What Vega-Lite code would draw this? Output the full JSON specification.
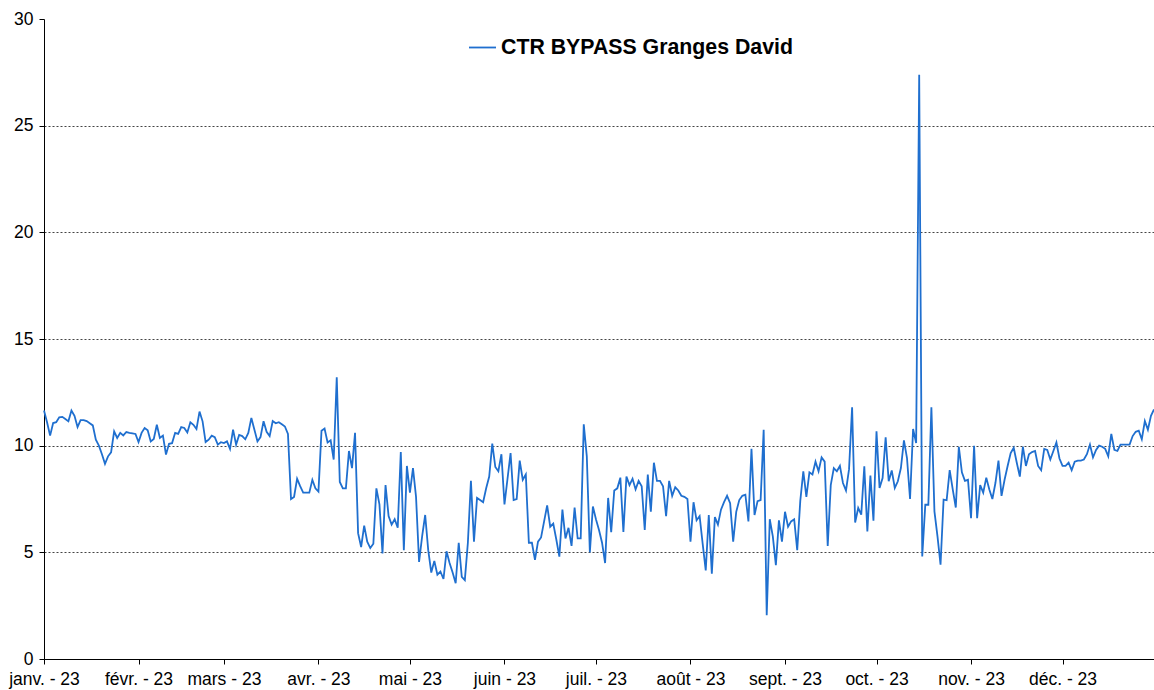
{"$schema":"https://vega.github.io/schema/vega-lite/v6.json","width":1110,"height":640,"autosize":{"type":"none"},"padding":{"left":44,"top":19,"right":0,"bottom":31},"background":"white","config":{"view":{"stroke":null},"font":"Liberation Sans"},
"data":{"values":[
{"date":"2023-01-01","v":11.65},{"date":"2023-01-02","v":11.1},{"date":"2023-01-03","v":10.47},{"date":"2023-01-04","v":11.06},{"date":"2023-01-05","v":11.1},{"date":"2023-01-06","v":11.33},{"date":"2023-01-07","v":11.35},{"date":"2023-01-08","v":11.25},{"date":"2023-01-09","v":11.14},{"date":"2023-01-10","v":11.65},{"date":"2023-01-11","v":11.4},{"date":"2023-01-12","v":10.87},{"date":"2023-01-13","v":11.2},{"date":"2023-01-14","v":11.2},{"date":"2023-01-15","v":11.15},{"date":"2023-01-16","v":11.05},{"date":"2023-01-17","v":10.95},{"date":"2023-01-18","v":10.28},{"date":"2023-01-19","v":10.0},{"date":"2023-01-20","v":9.6},{"date":"2023-01-21","v":9.15},{"date":"2023-01-22","v":9.5},{"date":"2023-01-23","v":9.69},{"date":"2023-01-24","v":10.67},{"date":"2023-01-25","v":10.36},{"date":"2023-01-26","v":10.6},{"date":"2023-01-27","v":10.48},{"date":"2023-01-28","v":10.64},{"date":"2023-01-29","v":10.6},{"date":"2023-01-30","v":10.58},{"date":"2023-01-31","v":10.55},
{"date":"2023-02-01","v":10.17},{"date":"2023-02-02","v":10.6},{"date":"2023-02-03","v":10.83},{"date":"2023-02-04","v":10.72},{"date":"2023-02-05","v":10.2},{"date":"2023-02-06","v":10.31},{"date":"2023-02-07","v":10.98},{"date":"2023-02-08","v":10.36},{"date":"2023-02-09","v":10.47},{"date":"2023-02-10","v":9.58},{"date":"2023-02-11","v":10.09},{"date":"2023-02-12","v":10.12},{"date":"2023-02-13","v":10.6},{"date":"2023-02-14","v":10.55},{"date":"2023-02-15","v":10.87},{"date":"2023-02-16","v":10.83},{"date":"2023-02-17","v":10.62},{"date":"2023-02-18","v":11.1},{"date":"2023-02-19","v":10.98},{"date":"2023-02-20","v":10.78},{"date":"2023-02-21","v":11.6},{"date":"2023-02-22","v":11.14},{"date":"2023-02-23","v":10.17},{"date":"2023-02-24","v":10.28},{"date":"2023-02-25","v":10.47},{"date":"2023-02-26","v":10.4},{"date":"2023-02-27","v":10.05},{"date":"2023-02-28","v":10.16},
{"date":"2023-03-01","v":10.12},{"date":"2023-03-02","v":10.2},{"date":"2023-03-03","v":9.85},{"date":"2023-03-04","v":10.75},{"date":"2023-03-05","v":10.05},{"date":"2023-03-06","v":10.5},{"date":"2023-03-07","v":10.45},{"date":"2023-03-08","v":10.3},{"date":"2023-03-09","v":10.6},{"date":"2023-03-10","v":11.3},{"date":"2023-03-11","v":10.75},{"date":"2023-03-12","v":10.2},{"date":"2023-03-13","v":10.4},{"date":"2023-03-14","v":11.15},{"date":"2023-03-15","v":10.65},{"date":"2023-03-16","v":10.45},{"date":"2023-03-17","v":11.15},{"date":"2023-03-18","v":11.05},{"date":"2023-03-19","v":11.1},{"date":"2023-03-20","v":11.0},{"date":"2023-03-21","v":10.9},{"date":"2023-03-22","v":10.55},{"date":"2023-03-23","v":7.5},{"date":"2023-03-24","v":7.6},{"date":"2023-03-25","v":8.45},{"date":"2023-03-26","v":8.1},{"date":"2023-03-27","v":7.8},{"date":"2023-03-28","v":7.8},{"date":"2023-03-29","v":7.8},{"date":"2023-03-30","v":8.4},{"date":"2023-03-31","v":8.0},
{"date":"2023-04-01","v":7.85},{"date":"2023-04-02","v":10.7},{"date":"2023-04-03","v":10.8},{"date":"2023-04-04","v":10.15},{"date":"2023-04-05","v":10.25},{"date":"2023-04-06","v":9.35},{"date":"2023-04-07","v":13.2},{"date":"2023-04-08","v":8.3},{"date":"2023-04-09","v":8.0},{"date":"2023-04-10","v":8.0},{"date":"2023-04-11","v":9.75},{"date":"2023-04-12","v":8.95},{"date":"2023-04-13","v":10.6},{"date":"2023-04-14","v":5.9},{"date":"2023-04-15","v":5.25},{"date":"2023-04-16","v":6.25},{"date":"2023-04-17","v":5.5},{"date":"2023-04-18","v":5.2},{"date":"2023-04-19","v":5.4},{"date":"2023-04-20","v":8.0},{"date":"2023-04-21","v":7.25},{"date":"2023-04-22","v":4.95},{"date":"2023-04-23","v":8.15},{"date":"2023-04-24","v":6.7},{"date":"2023-04-25","v":6.3},{"date":"2023-04-26","v":6.55},{"date":"2023-04-27","v":6.15},{"date":"2023-04-28","v":9.7},{"date":"2023-04-29","v":5.1},{"date":"2023-04-30","v":9.05},
{"date":"2023-05-01","v":7.8},{"date":"2023-05-02","v":8.95},{"date":"2023-05-03","v":7.6},{"date":"2023-05-04","v":4.55},{"date":"2023-05-05","v":5.75},{"date":"2023-05-06","v":6.75},{"date":"2023-05-07","v":5.1},{"date":"2023-05-08","v":4.05},{"date":"2023-05-09","v":4.6},{"date":"2023-05-10","v":3.95},{"date":"2023-05-11","v":4.1},{"date":"2023-05-12","v":3.75},{"date":"2023-05-13","v":5.05},{"date":"2023-05-14","v":4.5},{"date":"2023-05-15","v":4.05},{"date":"2023-05-16","v":3.55},{"date":"2023-05-17","v":5.45},{"date":"2023-05-18","v":3.85},{"date":"2023-05-19","v":3.7},{"date":"2023-05-20","v":5.45},{"date":"2023-05-21","v":8.35},{"date":"2023-05-22","v":5.5},{"date":"2023-05-23","v":7.55},{"date":"2023-05-24","v":7.45},{"date":"2023-05-25","v":7.35},{"date":"2023-05-26","v":8.0},{"date":"2023-05-27","v":8.55},{"date":"2023-05-28","v":10.1},{"date":"2023-05-29","v":9.0},{"date":"2023-05-30","v":8.8},{"date":"2023-05-31","v":9.6},
{"date":"2023-06-01","v":7.25},{"date":"2023-06-02","v":8.45},{"date":"2023-06-03","v":9.65},{"date":"2023-06-04","v":7.45},{"date":"2023-06-05","v":7.5},{"date":"2023-06-06","v":9.3},{"date":"2023-06-07","v":8.4},{"date":"2023-06-08","v":8.65},{"date":"2023-06-09","v":5.45},{"date":"2023-06-10","v":5.45},{"date":"2023-06-11","v":4.65},{"date":"2023-06-12","v":5.5},{"date":"2023-06-13","v":5.7},{"date":"2023-06-14","v":6.45},{"date":"2023-06-15","v":7.2},{"date":"2023-06-16","v":6.2},{"date":"2023-06-17","v":6.35},{"date":"2023-06-18","v":5.6},{"date":"2023-06-19","v":4.8},{"date":"2023-06-20","v":7.0},{"date":"2023-06-21","v":5.65},{"date":"2023-06-22","v":6.15},{"date":"2023-06-23","v":5.3},{"date":"2023-06-24","v":7.1},{"date":"2023-06-25","v":5.65},{"date":"2023-06-26","v":5.65},{"date":"2023-06-27","v":11.0},{"date":"2023-06-28","v":9.5},{"date":"2023-06-29","v":5.0},{"date":"2023-06-30","v":7.15},
{"date":"2023-07-01","v":6.55},{"date":"2023-07-02","v":6.05},{"date":"2023-07-03","v":5.45},{"date":"2023-07-04","v":4.5},{"date":"2023-07-05","v":7.55},{"date":"2023-07-06","v":5.95},{"date":"2023-07-07","v":7.9},{"date":"2023-07-08","v":8.0},{"date":"2023-07-09","v":8.5},{"date":"2023-07-10","v":5.95},{"date":"2023-07-11","v":8.55},{"date":"2023-07-12","v":8.15},{"date":"2023-07-13","v":8.45},{"date":"2023-07-14","v":7.95},{"date":"2023-07-15","v":8.35},{"date":"2023-07-16","v":8.1},{"date":"2023-07-17","v":6.05},{"date":"2023-07-18","v":8.65},{"date":"2023-07-19","v":6.9},{"date":"2023-07-20","v":9.2},{"date":"2023-07-21","v":8.35},{"date":"2023-07-22","v":8.35},{"date":"2023-07-23","v":8.1},{"date":"2023-07-24","v":6.7},{"date":"2023-07-25","v":8.35},{"date":"2023-07-26","v":7.65},{"date":"2023-07-27","v":8.05},{"date":"2023-07-28","v":7.9},{"date":"2023-07-29","v":7.65},{"date":"2023-07-30","v":7.6},{"date":"2023-07-31","v":7.5},
{"date":"2023-08-01","v":5.5},{"date":"2023-08-02","v":7.35},{"date":"2023-08-03","v":6.5},{"date":"2023-08-04","v":6.7},{"date":"2023-08-05","v":5.4},{"date":"2023-08-06","v":4.15},{"date":"2023-08-07","v":6.75},{"date":"2023-08-08","v":4.0},{"date":"2023-08-09","v":6.65},{"date":"2023-08-10","v":6.3},{"date":"2023-08-11","v":7.0},{"date":"2023-08-12","v":7.35},{"date":"2023-08-13","v":7.65},{"date":"2023-08-14","v":7.3},{"date":"2023-08-15","v":5.5},{"date":"2023-08-16","v":6.9},{"date":"2023-08-17","v":7.45},{"date":"2023-08-18","v":7.65},{"date":"2023-08-19","v":7.7},{"date":"2023-08-20","v":6.45},{"date":"2023-08-21","v":9.85},{"date":"2023-08-22","v":6.75},{"date":"2023-08-23","v":7.4},{"date":"2023-08-24","v":7.45},{"date":"2023-08-25","v":10.75},{"date":"2023-08-26","v":2.05},{"date":"2023-08-27","v":6.55},{"date":"2023-08-28","v":5.75},{"date":"2023-08-29","v":4.4},{"date":"2023-08-30","v":6.5},{"date":"2023-08-31","v":5.5},
{"date":"2023-09-01","v":6.9},{"date":"2023-09-02","v":6.2},{"date":"2023-09-03","v":6.45},{"date":"2023-09-04","v":6.55},{"date":"2023-09-05","v":5.1},{"date":"2023-09-06","v":7.4},{"date":"2023-09-07","v":8.8},{"date":"2023-09-08","v":7.6},{"date":"2023-09-09","v":8.75},{"date":"2023-09-10","v":8.65},{"date":"2023-09-11","v":9.25},{"date":"2023-09-12","v":8.8},{"date":"2023-09-13","v":9.45},{"date":"2023-09-14","v":9.25},{"date":"2023-09-15","v":5.3},{"date":"2023-09-16","v":8.15},{"date":"2023-09-17","v":8.95},{"date":"2023-09-18","v":8.8},{"date":"2023-09-19","v":9.05},{"date":"2023-09-20","v":8.25},{"date":"2023-09-21","v":7.9},{"date":"2023-09-22","v":8.9},{"date":"2023-09-23","v":11.8},{"date":"2023-09-24","v":6.4},{"date":"2023-09-25","v":7.08},{"date":"2023-09-26","v":6.77},{"date":"2023-09-27","v":9.03},{"date":"2023-09-28","v":5.98},{"date":"2023-09-29","v":8.6},{"date":"2023-09-30","v":6.48},
{"date":"2023-10-01","v":10.67},{"date":"2023-10-02","v":8.02},{"date":"2023-10-03","v":8.48},{"date":"2023-10-04","v":10.39},{"date":"2023-10-05","v":8.33},{"date":"2023-10-06","v":8.84},{"date":"2023-10-07","v":8.02},{"date":"2023-10-08","v":8.33},{"date":"2023-10-09","v":8.95},{"date":"2023-10-10","v":10.25},{"date":"2023-10-11","v":9.42},{"date":"2023-10-12","v":7.5},{"date":"2023-10-13","v":10.78},{"date":"2023-10-14","v":10.12},{"date":"2023-10-15","v":27.39},{"date":"2023-10-16","v":4.81},{"date":"2023-10-17","v":7.23},{"date":"2023-10-18","v":7.23},{"date":"2023-10-19","v":11.8},{"date":"2023-10-20","v":6.92},{"date":"2023-10-21","v":5.75},{"date":"2023-10-22","v":4.42},{"date":"2023-10-23","v":7.47},{"date":"2023-10-24","v":7.44},{"date":"2023-10-25","v":8.85},{"date":"2023-10-26","v":7.95},{"date":"2023-10-27","v":7.1},{"date":"2023-10-28","v":9.95},{"date":"2023-10-29","v":8.75},{"date":"2023-10-30","v":8.35},{"date":"2023-10-31","v":8.4},
{"date":"2023-11-01","v":6.6},{"date":"2023-11-02","v":10.0},{"date":"2023-11-03","v":6.6},{"date":"2023-11-04","v":8.15},{"date":"2023-11-05","v":7.8},{"date":"2023-11-06","v":8.5},{"date":"2023-11-07","v":7.95},{"date":"2023-11-08","v":7.5},{"date":"2023-11-09","v":8.25},{"date":"2023-11-10","v":9.3},{"date":"2023-11-11","v":7.65},{"date":"2023-11-12","v":8.4},{"date":"2023-11-13","v":9.05},{"date":"2023-11-14","v":9.65},{"date":"2023-11-15","v":9.9},{"date":"2023-11-16","v":9.2},{"date":"2023-11-17","v":8.55},{"date":"2023-11-18","v":9.95},{"date":"2023-11-19","v":9.05},{"date":"2023-11-20","v":9.6},{"date":"2023-11-21","v":9.7},{"date":"2023-11-22","v":9.75},{"date":"2023-11-23","v":9.05},{"date":"2023-11-24","v":8.85},{"date":"2023-11-25","v":9.85},{"date":"2023-11-26","v":9.8},{"date":"2023-11-27","v":9.35},{"date":"2023-11-28","v":9.75},{"date":"2023-11-29","v":10.15},{"date":"2023-11-30","v":9.4},
{"date":"2023-12-01","v":9.05},{"date":"2023-12-02","v":9.05},{"date":"2023-12-03","v":9.2},{"date":"2023-12-04","v":8.85},{"date":"2023-12-05","v":9.25},{"date":"2023-12-06","v":9.3},{"date":"2023-12-07","v":9.3},{"date":"2023-12-08","v":9.35},{"date":"2023-12-09","v":9.6},{"date":"2023-12-10","v":10.05},{"date":"2023-12-11","v":9.45},{"date":"2023-12-12","v":9.8},{"date":"2023-12-13","v":10.0},{"date":"2023-12-14","v":9.95},{"date":"2023-12-15","v":9.85},{"date":"2023-12-16","v":9.5},{"date":"2023-12-17","v":10.55},{"date":"2023-12-18","v":9.8},{"date":"2023-12-19","v":9.75},{"date":"2023-12-20","v":10.05},{"date":"2023-12-21","v":10.05},{"date":"2023-12-22","v":10.05},{"date":"2023-12-23","v":10.05},{"date":"2023-12-24","v":10.45},{"date":"2023-12-25","v":10.65},{"date":"2023-12-26","v":10.7},{"date":"2023-12-27","v":10.3},{"date":"2023-12-28","v":11.15},{"date":"2023-12-29","v":10.75},{"date":"2023-12-30","v":11.4},{"date":"2023-12-31","v":11.7}
]},
"mark":{"type":"line","strokeWidth":1.8,"interpolate":"linear"},
"encoding":{
"x":{"field":"date","type":"temporal","scale":{"type":"utc","domain":[{"year":2023,"month":1,"date":1,"utc":true},{"year":2023,"month":12,"date":31,"utc":true}],"nice":false},
"axis":{"title":null,"grid":false,"values":[{"year":2023,"month":1,"date":1,"utc":true},{"year":2023,"month":2,"date":1,"utc":true},{"year":2023,"month":3,"date":1,"utc":true},{"year":2023,"month":4,"date":1,"utc":true},{"year":2023,"month":5,"date":1,"utc":true},{"year":2023,"month":6,"date":1,"utc":true},{"year":2023,"month":7,"date":1,"utc":true},{"year":2023,"month":8,"date":1,"utc":true},{"year":2023,"month":9,"date":1,"utc":true},{"year":2023,"month":10,"date":1,"utc":true},{"year":2023,"month":11,"date":1,"utc":true},{"year":2023,"month":12,"date":1,"utc":true}],
"labelExpr":"['janv.','févr.','mars','avr.','mai','juin','juil.','août','sept.','oct.','nov.','déc.'][utcmonth(datum.value)] + ' - 23'",
"labelFont":"Liberation Sans","labelFontSize":17.5,"labelColor":"#000","labelPadding":6,"labelOverlap":false,"labelFlush":false,"domainColor":"#000","domainWidth":1,"tickColor":"#000","tickSize":5}},
"y":{"field":"v","type":"quantitative","scale":{"domain":[0,30],"nice":false,"zero":true},
"axis":{"title":null,"values":[0,5,10,15,20,25,30],"grid":true,"gridColor":"#444","gridDash":[2,2],"gridWidth":1,"gridOpacity":{"condition":{"test":"datum.value === 30","value":0},"value":1},"labelFont":"Liberation Sans","labelFontSize":17.5,"labelColor":"#000","labelPadding":6,"domainColor":"#000","domainWidth":1,"tickColor":"#000","tickSize":5}},
"color":{"datum":"CTR BYPASS Granges David","type":"nominal","scale":{"range":["#1F6FCF"]},
"legend":{"title":null,"orient":"none","legendX":424,"legendY":14,"padding":0,"symbolType":"stroke","symbolSize":729,"symbolStrokeWidth":1.8,"labelFont":"Liberation Sans","labelFontSize":21.3,"labelFontWeight":"bold","labelColor":"#000","labelOffset":4,"labelLimit":0}}
}}
